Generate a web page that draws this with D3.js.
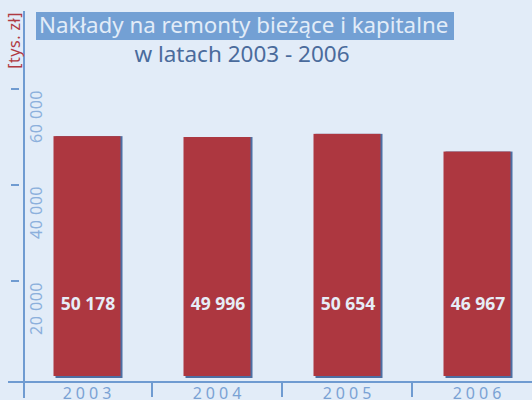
<!DOCTYPE html>
<html>
<head>
  <meta charset='utf-8'>
  <title>Nakłady na remonty</title>
  <script src="https://cdn.jsdelivr.net/npm/d3@7"></script>
  <style>
    body { margin: 0; background: #e2ecf8; }
    text { font-family: "Noto Sans", "Open Sans", sans-serif; }
  </style>
</head>
<body>
  <svg width="532" height="400" id="chart"></svg>
  <script>
    // data
    const years = ["2003", "2004", "2005", "2006"];
    const values = [50178, 49996, 50654, 46967];
    const yTicks = [20000, 40000, 60000];

    const svg = d3.select('#chart');
    svg.append('rect').attr('width', 532).attr('height', 400).attr('fill', '#e2ecf8');

    const x = d3.scaleBand().domain(years).range([22, 542]);
    const y = d3.scaleLinear().domain([0, 60000]).range([377, 89]);
    const fmt = v => d3.format(",")(v).replace(/,/g, " ");

    const barW = 67;
    const data = years.map((yr, i) => ({ year: yr, value: values[i] }));

    // bar shadow (dark blue edge right/bottom)
    svg.selectAll('.shadow')
      .data(data)
      .join('rect')
      .classed('shadow', true)
      .attr('x', d => x(d.year) + x.bandwidth() / 2 - barW / 2 + 2)
      .attr('y', d => y(d.value))
      .attr('width', barW)
      .attr('height', d => y(0) - y(d.value) + 1)
      .attr('fill', '#4d6fa3');

    svg.selectAll('.bar')
      .data(data)
      .join('rect')
      .classed('bar', true)
      .attr('x', d => x(d.year) + x.bandwidth() / 2 - barW / 2)
      .attr('y', d => y(d.value))
      .attr('width', barW)
      .attr('height', d => y(0) - y(d.value) - 1)
      .attr('fill', '#ad3740');

    svg.selectAll('.val')
      .data(data)
      .join('text')
      .classed('val', true)
      .attr('x', d => x(d.year) + x.bandwidth() / 2 + 1)
      .attr('y', 310)
      .attr('text-anchor', 'middle')
      .attr('font-size', 17.5)
      .attr('font-weight', 'bold')
      .attr('fill', '#e6edf7')
      .text(d => fmt(d.value));

    // axes
    const axisColor = '#6f9bd1';
    svg.append('line')
      .attr('x1', 24).attr('x2', 24).attr('y1', 11).attr('y2', 398)
      .attr('stroke', axisColor).attr('stroke-width', 2);
    svg.append('line')
      .attr('x1', 8).attr('x2', 532).attr('y1', 382).attr('y2', 382)
      .attr('stroke', axisColor).attr('stroke-width', 2);

    // y ticks + labels
    svg.selectAll('.ytick')
      .data(yTicks)
      .join('line')
      .classed('ytick', true)
      .attr('x1', 11).attr('x2', 19)
      .attr('y1', d => y(d)).attr('y2', d => y(d))
      .attr('stroke', axisColor).attr('stroke-width', 2);

    svg.selectAll('.ylab')
      .data(yTicks)
      .join('text')
      .classed('ylab', true)
      .attr('transform', d => `translate(42,${y(d) + 1}) rotate(-90)`)
      .attr('text-anchor', 'end')
      .attr('font-size', 16)
      .attr('letter-spacing', 0.5)
      .attr('fill', '#8cb0dc')
      .text(d => fmt(d));

    // x dividers + labels
    svg.selectAll('.xtick')
      .data(years.slice(1))
      .join('line')
      .classed('xtick', true)
      .attr('x1', d => x(d)).attr('x2', d => x(d))
      .attr('y1', 382).attr('y2', 397)
      .attr('stroke', axisColor).attr('stroke-width', 2);

    svg.selectAll('.xlab')
      .data(years)
      .join('text')
      .classed('xlab', true)
      .attr('x', d => x(d) + x.bandwidth() / 2 + 2)
      .attr('y', 399)
      .attr('text-anchor', 'middle')
      .attr('font-size', 16)
      .attr('letter-spacing', 4)
      .attr('fill', '#7aa2d4')
      .text(d => d);

    // unit label
    svg.append('text')
      .attr('transform', 'translate(20,12) rotate(-90)')
      .attr('text-anchor', 'end')
      .attr('font-size', 16)
      .attr('letter-spacing', 0.5)
      .attr('fill', '#b03a42')
      .text('[tys. zł]');

    // title
    svg.append('rect')
      .attr('x', 36).attr('y', 12).attr('width', 418).attr('height', 28)
      .attr('fill', '#73a0d4');
    svg.append('text')
      .attr('x', 39).attr('y', 33)
      .attr('font-size', 22.3)
      .attr('fill', '#e2ecf8')
      .text('Nakłady na remonty bieżące i kapitalne');
    svg.append('text')
      .attr('x', 242).attr('y', 62)
      .attr('text-anchor', 'middle')
      .attr('font-size', 22.5)
      .attr('fill', '#4a6b9c')
      .text('w latach 2003 - 2006');
  </script>
</body>
</html>
